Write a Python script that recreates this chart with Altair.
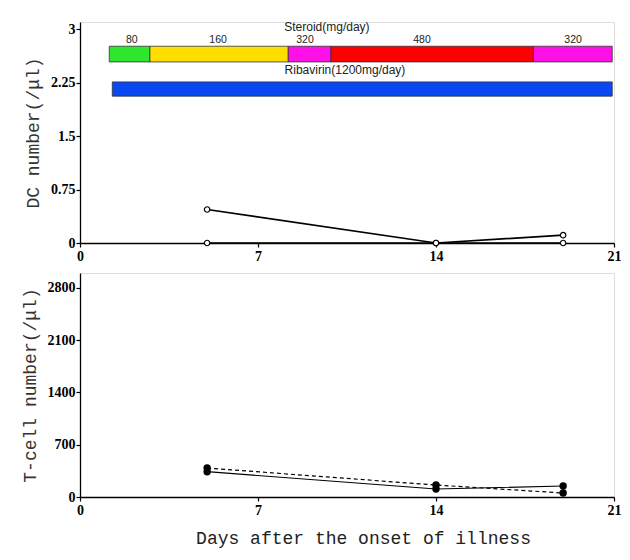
import altair as alt
import pandas as pd

# ---- data ----
days = [5, 14, 19]
dc_upper = [0.47, 0.0, 0.11]
dc_lower = [0.0, 0.0, 0.0]
tcell_solid = [339, 107, 147]
tcell_dashed = [388, 160, 54]

steroid_start = [1.15, 2.75, 8.19, 9.87, 17.83]
steroid_end = [2.75, 8.19, 9.87, 17.83, 20.93]
steroid_dose = ["80", "160", "320", "480", "320"]
steroid_label_day = [2.04, 5.43, 8.85, 13.45, 19.39]
steroid_colors = ["#2ee62e", "#ffde00", "#ff10e6", "#ff0000", "#ff10e6"]
steroid_band = [2.54, 2.76]
steroid_title_pos = [9.71, 3.03]
dose_label_y = 2.85

ribavirin_span = [1.27, 20.93]
ribavirin_band = [2.06, 2.26]
ribavirin_title_pos = [10.42, 2.43]

x_ticks = [0, 7, 14, 21]
dc_ticks = [0, 0.75, 1.5, 2.25, 3]
t_ticks = [0, 700, 1400, 2100, 2800]

SERIF = "Liberation Serif"
MONO = "Liberation Mono"
SANS = "Liberation Sans"

W = 534
H_TOP = 221
H_BOT = 224

xs = alt.Scale(domain=[0, 21], nice=False, zero=False)


def x_axis(title=None):
    kw = dict(values=x_ticks, labelFont=SERIF, labelFontSize=14, labelFontWeight="bold",
              labelColor="black", tickColor="black", tickSize=4, domainColor="black",
              domainWidth=1.3, tickWidth=1.2, grid=False, labelPadding=2, format="d",
              labelFlush=False)
    if title:
        kw.update(title=title, titleFont=MONO, titleFontSize=18, titleFontWeight="normal",
                  titleColor="#222", titlePadding=12, titleX=283)
    else:
        kw.update(title=None)
    return alt.Axis(**kw)


def y_axis(values, title, fmt):
    return alt.Axis(values=values, title=title, labelFont=SERIF, labelFontSize=14,
                    labelFontWeight="bold", labelColor="black", tickColor="black",
                    tickSize=4, domainColor="black", domainWidth=1.3, tickWidth=1.2,
                    grid=False, labelPadding=1, format=fmt, labelFlush=False,
                    titleFont=MONO, titleFontSize=18, titleFontWeight="normal",
                    titleColor="#333", titlePadding=8)


ys_top = alt.Scale(domain=[0, 3.1], nice=False)
ys_bot = alt.Scale(domain=[0, 3000], nice=False)
xa_top = x_axis()
xa_bot = x_axis("Days after the onset of illness")
ya_top = y_axis(dc_ticks, "DC number(/μl)", ".2~f")
ya_bot = y_axis(t_ticks, "T-cell number(/μl)", "d")


def X(field, axis):
    return alt.X(field, type="quantitative", scale=xs, axis=axis)


def Y(field, scale, axis):
    return alt.Y(field, type="quantitative", scale=scale, axis=axis)


# ---- top panel ----
steroid_df = pd.DataFrame({
    "start": steroid_start, "end": steroid_end, "dose": steroid_dose,
    "label_day": steroid_label_day, "color": steroid_colors,
    "y0": [steroid_band[0]] * 5, "y1": [steroid_band[1]] * 5,
    "ly": [dose_label_y] * 5,
})
rib_df = pd.DataFrame({"start": [ribavirin_span[0]], "end": [ribavirin_span[1]],
                       "y0": [ribavirin_band[0]], "y1": [ribavirin_band[1]]})
titles_df = pd.DataFrame({
    "d": [steroid_title_pos[0], ribavirin_title_pos[0]],
    "v": [steroid_title_pos[1], ribavirin_title_pos[1]],
    "t": ["Steroid(mg/day)", "Ribavirin(1200mg/day)"],
})
dc_df = pd.DataFrame({"day": days * 2, "v": dc_upper + dc_lower,
                      "s": ["upper"] * 3 + ["lower"] * 3})

steroid_bars = alt.Chart(steroid_df).mark_rect(stroke="#333", strokeWidth=0.8).encode(
    x=X("start", xa_top), x2="end",
    y=Y("y0", ys_top, ya_top), y2="y1",
    color=alt.Color("color:N", scale=None),
)
steroid_labels = alt.Chart(steroid_df).mark_text(font=SANS, fontSize=10.5, color="#222").encode(
    x=X("label_day", xa_top), y=Y("ly", ys_top, ya_top), text="dose:N"
)
rib_bar = alt.Chart(rib_df).mark_rect(color="#0a48f2", stroke="#333", strokeWidth=0.8).encode(
    x=X("start", xa_top), x2="end", y=Y("y0", ys_top, ya_top), y2="y1"
)
title_texts = alt.Chart(titles_df).mark_text(font=SANS, fontSize=12, color="#222").encode(
    x=X("d", xa_top), y=Y("v", ys_top, ya_top), text="t:N"
)
dc_lines = alt.Chart(dc_df).mark_line(color="black", strokeWidth=1.7).encode(
    x=X("day", xa_top), y=Y("v", ys_top, ya_top), detail="s:N"
)
dc_points = alt.Chart(dc_df).mark_point(shape="circle", size=30, filled=True, fill="white",
                                        stroke="black", strokeWidth=1.2, opacity=1).encode(
    x=X("day", xa_top), y=Y("v", ys_top, ya_top)
)

top = alt.layer(steroid_bars, rib_bar, steroid_labels, title_texts, dc_lines, dc_points).properties(
    width=W, height=H_TOP)

# ---- bottom panel ----
t_df = pd.DataFrame({"day": days * 2, "v": tcell_solid + tcell_dashed,
                     "s": ["solid"] * 3 + ["dashed"] * 3})

t_solid_line = alt.Chart(t_df).transform_filter(alt.datum.s == "solid").mark_line(
    color="black", strokeWidth=1.2).encode(x=X("day", xa_bot), y=Y("v", ys_bot, ya_bot))
t_dash_line = alt.Chart(t_df).transform_filter(alt.datum.s == "dashed").mark_line(
    color="black", strokeWidth=1.2, strokeDash=[4, 3]).encode(x=X("day", xa_bot), y=Y("v", ys_bot, ya_bot))
t_points = alt.Chart(t_df).mark_point(shape="circle", size=55, filled=True, color="black",
                                      opacity=1).encode(x=X("day", xa_bot), y=Y("v", ys_bot, ya_bot))

bottom = alt.layer(t_solid_line, t_dash_line, t_points).properties(width=W, height=H_BOT)

chart = alt.vconcat(top, bottom, spacing=8).properties(
    padding={"left": 12, "top": 12, "right": 0, "bottom": 2}
).configure_view(stroke=None).configure(background="white")

chart.save("out.html", embed_options={"renderer": "svg", "actions": False})
